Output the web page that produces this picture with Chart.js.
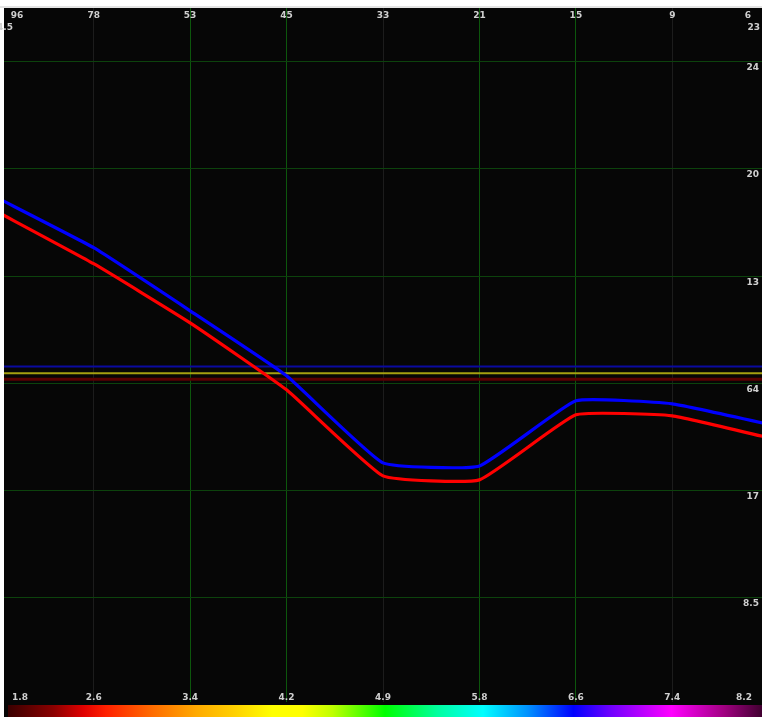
<!DOCTYPE html>
<html>
<head>
<meta charset="utf-8">
<script src="https://cdn.jsdelivr.net/npm/chart.js@4"></script>
<style>
  html, body { margin: 0; padding: 0; background: #fff; }
  #wrap { width: 762px; height: 717px; }
</style>
</head>
<body>
<div id="wrap"><canvas id="chart1" width="762" height="717"></canvas></div>
<script>
// columns (index along x)
const columns = [0, 1, 2, 3, 4, 5, 6, 7, 8];
const topLabels = ['96', '78', '53', '45', '33', '21', '15', '9', '6'];
const bottomLabels = ['1.8', '2.6', '3.4', '4.2', '4.9', '5.8', '6.6', '7.4', '8.2'];
// right side labels, gridline 1 (bottom) .. 6 (top)
const rightLabels = ['8.5', '17', '64', '13', '20', '24'];

// the two curves, in grid units
const blueLevels = [4.73, 4.265, 3.677, 3.071, 2.259, 2.231, 2.838, 2.810, 2.619];
const redLevels = [4.60, 4.116, 3.565, 2.940, 2.138, 2.101, 2.707, 2.698, 2.493];

// flat reference lines
const refBlue = 3.158;
const refYellow = 3.096;
const refDarkRed = 3.040;

const ctx1 = document.getElementById('chart1').getContext('2d');

const toPoints = (vals) => vals.map((v, i) => ({ x: columns[i], y: v }));
const flat = (v) => columns.map(c => ({ x: c, y: v }));

const greenCols = [2, 3, 5, 6];

let chart = new Chart(ctx1, {
    type: 'line',
    data: {
        datasets: [
            {
                label: 'blue',
                data: toPoints(blueLevels),
                borderColor: '#0000ff',
                borderWidth: 3.2,
                pointRadius: 0,
                tension: 0.12
            },
            {
                label: 'red',
                data: toPoints(redLevels),
                borderColor: '#ff0000',
                borderWidth: 3.2,
                pointRadius: 0,
                tension: 0.12
            },
            {
                label: 'ref blue',
                data: flat(refBlue),
                borderColor: '#0a0aa0',
                borderWidth: 2,
                pointRadius: 0
            },
            {
                label: 'ref yellow',
                data: flat(refYellow),
                borderColor: '#a6a010',
                borderWidth: 2,
                pointRadius: 0
            },
            {
                label: 'ref dark red',
                data: flat(refDarkRed),
                borderColor: '#5a0000',
                borderWidth: 3,
                pointRadius: 0
            }
        ]
    },
    options: {
        responsive: false,
        animation: false,
        layout: {
            padding: { left: 4, top: 8, right: 0, bottom: 15 }
        },
        scales: {
            x: {
                type: 'linear',
                min: 0.07,
                max: 7.93,
                ticks: { display: false, stepSize: 1 },
                border: { display: false },
                grid: {
                    drawTicks: false,
                    lineWidth: 1,
                    color: function(c) {
                        const v = c.tick.value;
                        if (!Number.isInteger(v)) return 'rgba(0,0,0,0)';
                        return greenCols.includes(v) ? '#0c560c' : '#1c1c1c';
                    }
                }
            },
            y: {
                type: 'linear',
                min: 0.03,
                max: 6.5,
                ticks: { display: false, stepSize: 1 },
                border: { display: false },
                grid: {
                    drawTicks: false,
                    lineWidth: 1,
                    color: function(c) {
                        return Number.isInteger(c.tick.value) ? '#0c420c' : 'rgba(0,0,0,0)';
                    }
                }
            }
        },
        plugins: {
            legend: { display: false },
            tooltip: { enabled: false }
        }
    },
    plugins: [{
        beforeDraw: function(chart) {
            const ctx = chart.ctx;
            ctx.save();
            ctx.fillStyle = '#ffffff';
            ctx.fillRect(0, 0, chart.width, chart.height);
            ctx.fillStyle = '#e4e4e4';
            ctx.fillRect(0, 6, chart.width, 2);
            ctx.fillStyle = '#060606';
            ctx.fillRect(4, 8, chart.width - 4, chart.height - 8);

            // colour bar at the bottom
            const g = ctx.createLinearGradient(8, 0, chart.width, 0);
            g.addColorStop(0.00, '#3a0000');
            g.addColorStop(0.06, '#8a0000');
            g.addColorStop(0.10, '#e00000');
            g.addColorStop(0.13, '#ff2000');
            g.addColorStop(0.19, '#ff6a00');
            g.addColorStop(0.25, '#ffaa00');
            g.addColorStop(0.30, '#ffd000');
            g.addColorStop(0.35, '#ffff00');
            g.addColorStop(0.39, '#ffff00');
            g.addColorStop(0.43, '#c0ff00');
            g.addColorStop(0.50, '#00ff00');
            g.addColorStop(0.57, '#00ffa0');
            g.addColorStop(0.63, '#00ffff');
            g.addColorStop(0.69, '#0090ff');
            g.addColorStop(0.75, '#0000ff');
            g.addColorStop(0.80, '#7000ff');
            g.addColorStop(0.88, '#ff00ff');
            g.addColorStop(0.95, '#a00080');
            g.addColorStop(1.00, '#400030');
            ctx.fillStyle = g;
            ctx.fillRect(8, 705, chart.width - 8, 12);
            ctx.restore();
        },
        afterDraw: function(chart) {
            const ctx = chart.ctx;
            const xs = chart.scales.x;
            const ys = chart.scales.y;
            ctx.save();
            ctx.font = 'bold 9px "DejaVu Sans"';
            ctx.fillStyle = '#d0d0d0';
            ctx.textAlign = 'center';
            ctx.textBaseline = 'middle';

            const clampX = (x, lo, hi) => Math.min(Math.max(x, lo), hi);

            topLabels.forEach((t, i) => {
                const x = clampX(xs.getPixelForValue(columns[i]), 17, 748);
                ctx.fillText(t, x, 16);
            });
            bottomLabels.forEach((t, i) => {
                const x = clampX(xs.getPixelForValue(columns[i]), 20, 744);
                ctx.fillText(t, x, 698);
            });

            ctx.textAlign = 'right';
            rightLabels.forEach((t, i) => {
                const y = ys.getPixelForValue(i + 1) + 6;
                ctx.fillText(t, 759, y);
            });
            ctx.fillText('23', 760, 28);

            ctx.textAlign = 'left';
            ctx.fillText('4.5', -3, 28);
            ctx.restore();
        }
    }]
});
</script>
</body>
</html>
